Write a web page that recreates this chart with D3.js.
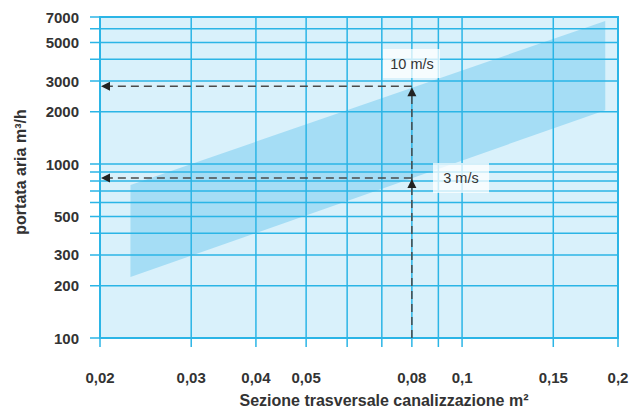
<!DOCTYPE html>
<html><head><meta charset="utf-8">
<script src="https://cdn.jsdelivr.net/npm/d3@7"></script>
<style>body{margin:0;background:#fff}svg{display:block}</style>
</head><body>
<svg id="c" width="631" height="410"></svg>
<script>
const xTicks = [0.02, 0.03, 0.04, 0.05, 0.08, 0.1, 0.15, 0.2];
const xTickLabels = ["0,02", "0,03", "0,04", "0,05", "0,08", "0,1", "0,15", "0,2"];
const xGrid = [0.02, 0.03, 0.04, 0.05, 0.06, 0.07, 0.08, 0.09, 0.1, 0.15, 0.2];
const yTicks = [100, 200, 300, 500, 1000, 2000, 3000, 5000, 7000];
const yGrid = [100, 200, 300, 400, 500, 600, 700, 800, 900, 1000, 2000, 3000, 4000, 5000, 6000, 7000];
const bandSection = [0.0229, 0.189];
const bandLow = [224, 2040];
const bandHigh = [757, 6640];
const refSection = 0.08;
const refFlow = [2800, 830];
const refLabels = ["10 m/s", "3 m/s"];

const svg = d3.select("#c");
const L = 100, R = 618, T = 17, B = 338;
const x = d3.scaleLog().domain([0.02, 0.2]).range([L, R]);
const y = d3.scaleLog().domain([100, 7000]).range([B, T]);

const gridC = "#2bb5e6", bgC = "#d9f1fb", bandC = "#a5ddf5", dashC = "#4a4a4a";
const font = "'Liberation Sans', Arial, sans-serif";

svg.append("rect").attr("x", L).attr("y", T).attr("width", R - L).attr("height", B - T).attr("fill", bgC);

// band
const bandPts = [
  [x(bandSection[0]), y(bandHigh[0])],
  [x(bandSection[1]), y(bandHigh[1])],
  [x(bandSection[1]), y(bandLow[1])],
  [x(bandSection[0]), y(bandLow[0])]
];
svg.append("polygon").attr("points", bandPts.map(p => p.join(",")).join(" ")).attr("fill", bandC);

// grid
svg.append("g").selectAll("line").data(yGrid).join("line")
  .attr("x1", L - 10).attr("x2", R).attr("y1", d => y(d)).attr("y2", d => y(d))
  .attr("stroke", gridC).attr("stroke-width", 1.5);
svg.append("g").selectAll("line").data(xGrid).join("line")
  .attr("x1", d => x(d)).attr("x2", d => x(d)).attr("y1", T).attr("y2", B + 9)
  .attr("stroke", gridC).attr("stroke-width", 1.5);
svg.append("rect").attr("x", L).attr("y", T).attr("width", R - L).attr("height", B - T)
  .attr("fill", "none").attr("stroke", gridC).attr("stroke-width", 2);

// label boxes
const boxes = [
  {x: 383, y: 49, w: 57, h: 29, tx: 412, ty: 69},
  {x: 433, y: 163, w: 56, h: 30, tx: 461, ty: 183}
];
boxes.forEach((b, i) => {
  svg.append("rect").attr("x", b.x).attr("y", b.y).attr("width", b.w).attr("height", b.h)
    .attr("fill", "#ffffff").attr("opacity", 0.75);
  svg.append("text").attr("x", b.tx).attr("y", b.ty).attr("text-anchor", "middle")
    .attr("font-family", font).attr("font-size", 14.5).attr("fill", "#333").text(refLabels[i]);
});

// dashed reference lines
const xr = x(refSection);
const dash = "8,5";
svg.append("line").attr("x1", xr).attr("x2", xr).attr("y1", B).attr("y2", y(refFlow[0]) + 6)
  .attr("stroke", dashC).attr("stroke-width", 1.5).attr("stroke-dasharray", dash);
refFlow.forEach(f => {
  const yy = y(f);
  svg.append("line").attr("x1", xr).attr("x2", L + 8).attr("y1", yy).attr("y2", yy)
    .attr("stroke", dashC).attr("stroke-width", 1.5).attr("stroke-dasharray", dash);
  svg.append("path").attr("d", `M${L + 1},${yy} L${L + 10},${yy - 4.5} L${L + 10},${yy + 4.5} Z`).attr("fill", "#222");
  svg.append("path").attr("d", `M${xr},${yy + 1} L${xr - 4.5},${yy + 10} L${xr + 4.5},${yy + 10} Z`).attr("fill", "#222");
});

// tick labels
svg.append("g").selectAll("text").data(yTicks).join("text")
  .attr("x", 79).attr("y", d => y(d) + 5.5).attr("text-anchor", "end")
  .attr("font-family", font).attr("font-weight", "bold").attr("font-size", 15).attr("fill", "#333")
  .text(d => d);
svg.append("g").selectAll("text").data(xTicks).join("text")
  .attr("x", d => x(d)).attr("y", 383).attr("text-anchor", "middle")
  .attr("font-family", font).attr("font-weight", "bold").attr("font-size", 15).attr("fill", "#333")
  .text((d, i) => xTickLabels[i]);

// axis titles
svg.append("text").attr("transform", "translate(26,172) rotate(-90)").attr("text-anchor", "middle")
  .attr("font-family", font).attr("font-weight", "bold").attr("font-size", 16).attr("fill", "#333")
  .text("portata aria m³/h");
svg.append("text").attr("x", 384).attr("y", 406).attr("text-anchor", "middle")
  .attr("font-family", font).attr("font-weight", "bold").attr("font-size", 16).attr("fill", "#333")
  .text("Sezione trasversale canalizzazione m²");
</script>
</body></html>
